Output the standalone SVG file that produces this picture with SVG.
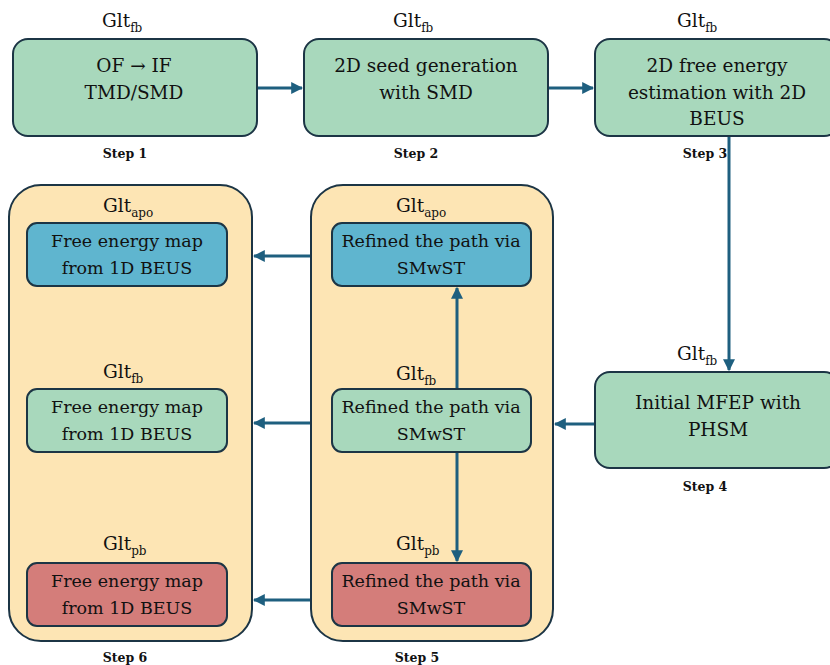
<svg xmlns="http://www.w3.org/2000/svg" width="830" height="665" viewBox="0 0 830 665">
<defs>
<style>
text{fill:#111;font-family:'DejaVu Serif','Liberation Serif',serif}
.t{font-size:18.5px;text-anchor:middle}
.ti{font-size:17.5px;text-anchor:middle}
.g{font-size:18.5px}
.sub{font-size:12px}
.s{font-size:12.5px;font-weight:bold;text-anchor:middle}
.green{fill:#a8d8bc;stroke:#1c3545;stroke-width:2}
.blue{fill:#5fb5cf;stroke:#1c3545;stroke-width:2}
.red{fill:#d47d7a;stroke:#1c3545;stroke-width:2}
.cont{fill:#fde5b4;stroke:#1c3545;stroke-width:2}
.c{stroke:#1e5f7f;stroke-width:3;fill:none;marker-end:url(#ah)}
</style>
<marker id="ah" viewBox="0 0 10 10" refX="9" refY="5" markerWidth="4" markerHeight="4" orient="auto" markerUnits="strokeWidth">
<path d="M0,0 L10,5 L0,10 z" fill="#1e5f7f"/>
</marker>
</defs>

<g id="step6">
<rect class="cont" x="9" y="185" width="243" height="456" rx="32"/>
<text class="g" x="103" y="212">Glt<tspan class="sub" dy="5">apo</tspan></text>
<rect class="blue" x="27" y="223" width="200" height="63" rx="10"/>
<text class="ti" x="127" y="247">Free energy map</text>
<text class="ti" x="127" y="274">from 1D BEUS</text>
<text class="g" x="103" y="378">Glt<tspan class="sub" dy="5">fb</tspan></text>
<rect class="green" x="27" y="389" width="200" height="63" rx="10"/>
<text class="ti" x="127" y="413">Free energy map</text>
<text class="ti" x="127" y="440">from 1D BEUS</text>
<text class="g" x="103" y="550">Glt<tspan class="sub" dy="5">pb</tspan></text>
<rect class="red" x="27" y="563" width="200" height="63" rx="10"/>
<text class="ti" x="127" y="587">Free energy map</text>
<text class="ti" x="127" y="614">from 1D BEUS</text>
<text class="s" x="125" y="662">Step 6</text>
</g>

<g id="step5">
<rect class="cont" x="311" y="185" width="242" height="456" rx="32"/>
<text class="g" x="396" y="212">Glt<tspan class="sub" dy="5">apo</tspan></text>
<rect class="blue" x="332" y="223" width="199" height="63" rx="10"/>
<text class="ti" x="431" y="247">Refined the path via</text>
<text class="ti" x="431" y="274">SMwST</text>
<text class="g" x="396" y="380">Glt<tspan class="sub" dy="5">fb</tspan></text>
<rect class="green" x="332" y="389" width="199" height="63" rx="10"/>
<text class="ti" x="431" y="413">Refined the path via</text>
<text class="ti" x="431" y="440">SMwST</text>
<text class="g" x="396" y="550">Glt<tspan class="sub" dy="5">pb</tspan></text>
<rect class="red" x="332" y="563" width="199" height="63" rx="10"/>
<text class="ti" x="431" y="587">Refined the path via</text>
<text class="ti" x="431" y="614">SMwST</text>
<text class="s" x="417" y="662">Step 5</text>
</g>

<g id="step1">
<text class="g" x="102" y="27">Glt<tspan class="sub" dy="5">fb</tspan></text>
<rect class="green" x="13" y="39" width="244" height="97" rx="15"/>
<text class="t" x="134" y="72">OF → IF</text>
<text class="t" x="134" y="99">TMD/SMD</text>
<text class="s" x="125" y="158">Step 1</text>
</g>

<g id="step2">
<text class="g" x="393" y="27">Glt<tspan class="sub" dy="5">fb</tspan></text>
<rect class="green" x="304" y="39" width="244" height="97" rx="15"/>
<text class="t" x="426" y="72">2D seed generation</text>
<text class="t" x="426" y="99">with SMD</text>
<text class="s" x="416" y="158">Step 2</text>
</g>

<g id="step3">
<text class="g" x="677" y="27">Glt<tspan class="sub" dy="5">fb</tspan></text>
<rect class="green" x="595" y="39" width="244" height="97" rx="15"/>
<text class="t" x="717" y="72">2D free energy</text>
<text class="t" x="717" y="99">estimation with 2D</text>
<text class="t" x="717" y="125">BEUS</text>
<text class="s" x="705" y="158">Step 3</text>
</g>

<g id="step4">
<text class="g" x="677" y="360">Glt<tspan class="sub" dy="5">fb</tspan></text>
<rect class="green" x="595" y="372" width="244" height="96" rx="15"/>
<text class="t" x="718" y="409">Initial MFEP with</text>
<text class="t" x="718" y="436">PHSM</text>
<text class="s" x="705" y="491">Step 4</text>
</g>

<g id="connectors">
<line class="c" x1="258" y1="88" x2="302" y2="88"/>
<line class="c" x1="549" y1="88" x2="593" y2="88"/>
<line class="c" x1="729" y1="137" x2="729" y2="370"/>
<line class="c" x1="594" y1="424" x2="555" y2="424"/>
<line class="c" x1="310" y1="256" x2="254" y2="256"/>
<line class="c" x1="310" y1="423" x2="254" y2="423"/>
<line class="c" x1="310" y1="600" x2="254" y2="600"/>
<line class="c" x1="457" y1="388" x2="457" y2="288"/>
<line class="c" x1="457" y1="453" x2="457" y2="561"/>
</g>
</svg>
